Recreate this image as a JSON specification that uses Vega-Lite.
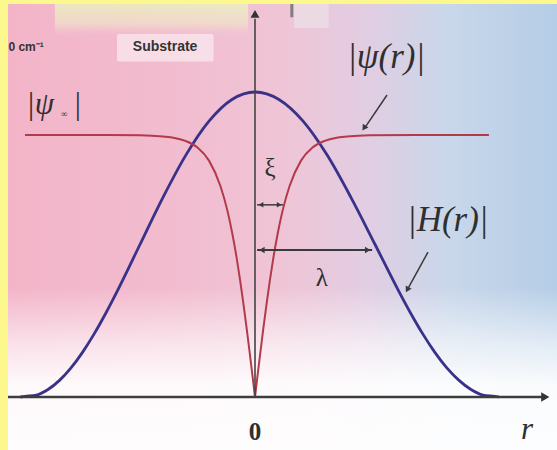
{
  "$schema": "https://vega.github.io/schema/vega-lite/v6.json",
  "width": 549,
  "height": 446,
  "autosize": "none",
  "padding": {"left": 8, "top": 4, "right": 0, "bottom": 0},
  "background": "#fcf88e",
  "config": {
    "view": {
      "stroke": null,
      "fill": {
        "gradient": "linear", "x1": 0, "y1": 0, "x2": 1, "y2": 0,
        "stops": [
          {"offset": 0, "color": "#f3b4c8"},
          {"offset": 0.3, "color": "#f2bccf"},
          {"offset": 0.5, "color": "#efc5d6"},
          {"offset": 0.65, "color": "#e2cde2"},
          {"offset": 0.8, "color": "#c9d7ea"},
          {"offset": 1, "color": "#b5cde6"}
        ]
      }
    }
  },
  "data": {"values": [{}]},
  "datasets": {
    "H": [
      {"r": -1.02, "h": 0}, {"r": -1.0, "h": 0.002}, {"r": -0.95, "h": 0.0062},
      {"r": -0.9, "h": 0.0245}, {"r": -0.85, "h": 0.0545}, {"r": -0.8, "h": 0.0955},
      {"r": -0.75, "h": 0.1464}, {"r": -0.7, "h": 0.2061}, {"r": -0.65, "h": 0.273},
      {"r": -0.6, "h": 0.3455}, {"r": -0.5, "h": 0.5}, {"r": -0.4, "h": 0.6545},
      {"r": -0.3, "h": 0.7939}, {"r": -0.2, "h": 0.9045}, {"r": -0.1, "h": 0.9755},
      {"r": 0, "h": 1.0},
      {"r": 0.104, "h": 0.9755}, {"r": 0.209, "h": 0.9045}, {"r": 0.313, "h": 0.7939},
      {"r": 0.417, "h": 0.6545}, {"r": 0.522, "h": 0.5}, {"r": 0.626, "h": 0.3455},
      {"r": 0.678, "h": 0.273}, {"r": 0.73, "h": 0.2061}, {"r": 0.782, "h": 0.1464},
      {"r": 0.834, "h": 0.0955}, {"r": 0.887, "h": 0.0545}, {"r": 0.939, "h": 0.0245},
      {"r": 0.991, "h": 0.0062}, {"r": 1.043, "h": 0.002}, {"r": 1.06, "h": 0}
    ],
    "psi": [
      {"branch": "left", "r": -1.0, "h": 0.859}, {"branch": "left", "r": -0.7, "h": 0.859},
      {"branch": "left", "r": -0.5, "h": 0.858}, {"branch": "left", "r": -0.4, "h": 0.854},
      {"branch": "left", "r": -0.35, "h": 0.8495}, {"branch": "left", "r": -0.3, "h": 0.839},
      {"branch": "left", "r": -0.25, "h": 0.818}, {"branch": "left", "r": -0.2, "h": 0.775},
      {"branch": "left", "r": -0.15, "h": 0.691}, {"branch": "left", "r": -0.12, "h": 0.611},
      {"branch": "left", "r": -0.1, "h": 0.541}, {"branch": "left", "r": -0.08, "h": 0.457},
      {"branch": "left", "r": -0.065, "h": 0.3843}, {"branch": "left", "r": -0.05, "h": 0.304},
      {"branch": "left", "r": -0.035, "h": 0.2178}, {"branch": "left", "r": -0.02, "h": 0.126},
      {"branch": "left", "r": -0.01, "h": 0.0636}, {"branch": "left", "r": 0, "h": 0},
      {"branch": "right", "r": 0, "h": 0}, {"branch": "right", "r": 0.01, "h": 0.0636},
      {"branch": "right", "r": 0.02, "h": 0.126}, {"branch": "right", "r": 0.035, "h": 0.2178},
      {"branch": "right", "r": 0.05, "h": 0.304}, {"branch": "right", "r": 0.065, "h": 0.3843},
      {"branch": "right", "r": 0.08, "h": 0.457}, {"branch": "right", "r": 0.1, "h": 0.541},
      {"branch": "right", "r": 0.12, "h": 0.611}, {"branch": "right", "r": 0.15, "h": 0.691},
      {"branch": "right", "r": 0.2, "h": 0.775}, {"branch": "right", "r": 0.25, "h": 0.818},
      {"branch": "right", "r": 0.3, "h": 0.839}, {"branch": "right", "r": 0.35, "h": 0.8495},
      {"branch": "right", "r": 0.4, "h": 0.854}, {"branch": "right", "r": 0.5, "h": 0.858},
      {"branch": "right", "r": 0.7, "h": 0.859}, {"branch": "right", "r": 1.017, "h": 0.859}
    ]
  },
  "layer": [
    {
      "description": "white fade towards the bottom of the backdrop",
      "mark": {
        "type": "rect",
        "fill": {
          "gradient": "linear", "x1": 0, "y1": 0, "x2": 0, "y2": 1,
          "stops": [
            {"offset": 0, "color": "rgba(255,255,255,0)"},
            {"offset": 0.35, "color": "rgba(255,255,255,0.6)"},
            {"offset": 0.6, "color": "rgba(255,255,255,0.92)"},
            {"offset": 1, "color": "rgba(255,255,255,0.96)"}
          ]
        }
      },
      "encoding": {
        "x": {"datum": -1.0739, "type": "quantitative", "scale": {"domain": [-1.0739, 1.313], "nice": false, "zero": false}, "axis": null},
        "x2": {"datum": 1.313},
        "y": {"datum": 0.36, "type": "quantitative", "scale": {"domain": [-0.1738, 1.2885], "nice": false, "zero": false}, "axis": null},
        "y2": {"datum": -0.1738}
      }
    },
    {
      "description": "pale band across the top left",
      "mark": {
        "type": "rect",
        "fill": {
          "gradient": "linear", "x1": 0, "y1": 0, "x2": 0, "y2": 1,
          "stops": [
            {"offset": 0, "color": "rgba(234,243,190,0.8)"},
            {"offset": 0.6, "color": "rgba(240,238,200,0.55)"},
            {"offset": 1, "color": "rgba(240,200,210,0)"}
          ]
        }
      },
      "encoding": {
        "x": {"datum": -0.87, "type": "quantitative", "scale": {"domain": [-1.0739, 1.313], "nice": false, "zero": false}, "axis": null},
        "x2": {"datum": -0.03},
        "y": {"datum": 1.2885, "type": "quantitative", "scale": {"domain": [-0.1738, 1.2885], "nice": false, "zero": false}, "axis": null},
        "y2": {"datum": 1.18}
      }
    },
    {
      "description": "pale grey patch right of the vertical axis at the top",
      "mark": {"type": "rect", "fill": "#ece6ea", "opacity": 0.6},
      "encoding": {
        "x": {"datum": 0.17, "type": "quantitative", "scale": {"domain": [-1.0739, 1.313], "nice": false, "zero": false}, "axis": null},
        "x2": {"datum": 0.32},
        "y": {"datum": 1.2885, "type": "quantitative", "scale": {"domain": [-0.1738, 1.2885], "nice": false, "zero": false}, "axis": null},
        "y2": {"datum": 1.21}
      }
    },
    {
      "mark": {"type": "rule", "color": "#6a6a6a", "strokeWidth": 3, "opacity": 0.8},
      "encoding": {
        "x": {"datum": 0.16, "type": "quantitative", "scale": {"domain": [-1.0739, 1.313], "nice": false, "zero": false}, "axis": null},
        "y": {"datum": 1.2885, "type": "quantitative", "scale": {"domain": [-0.1738, 1.2885], "nice": false, "zero": false}, "axis": null},
        "y2": {"datum": 1.245}
      }
    },
    {
      "description": "box behind the Substrate caption",
      "mark": {"type": "rect", "fill": "#fbf4f7", "opacity": 0.6, "cornerRadius": 2},
      "encoding": {
        "x": {"datum": -0.6, "type": "quantitative", "scale": {"domain": [-1.0739, 1.313], "nice": false, "zero": false}, "axis": null},
        "x2": {"datum": -0.18},
        "y": {"datum": 1.19, "type": "quantitative", "scale": {"domain": [-0.1738, 1.2885], "nice": false, "zero": false}, "axis": null},
        "y2": {"datum": 1.1}
      }
    },
    {
      "description": "|H(r)| field profile",
      "data": {"name": "H"},
      "mark": {"type": "line", "color": "#3a3289", "strokeWidth": 2.8, "interpolate": "monotone"},
      "encoding": {
        "x": {"field": "r", "type": "quantitative", "scale": {"domain": [-1.0739, 1.313], "nice": false, "zero": false}, "axis": null},
        "y": {"field": "h", "type": "quantitative", "scale": {"domain": [-0.1738, 1.2885], "nice": false, "zero": false}, "axis": null}
      }
    },
    {
      "description": "|psi(r)| order parameter, one line per side of the core",
      "data": {"name": "psi"},
      "mark": {"type": "line", "color": "#b23a4a", "strokeWidth": 2, "interpolate": "monotone"},
      "encoding": {
        "x": {"field": "r", "type": "quantitative", "scale": {"domain": [-1.0739, 1.313], "nice": false, "zero": false}, "axis": null},
        "y": {"field": "h", "type": "quantitative", "scale": {"domain": [-0.1738, 1.2885], "nice": false, "zero": false}, "axis": null},
        "detail": {"field": "branch"}
      }
    },
    {
      "description": "r axis",
      "mark": {"type": "rule", "color": "#3d3d3d", "strokeWidth": 2.5},
      "encoding": {
        "x": {"datum": -1.0739, "type": "quantitative", "scale": {"domain": [-1.0739, 1.313], "nice": false, "zero": false}, "axis": null},
        "x2": {"datum": 1.26},
        "y": {"datum": 0, "type": "quantitative", "scale": {"domain": [-0.1738, 1.2885], "nice": false, "zero": false}, "axis": null}
      }
    },
    {
      "description": "vertical axis",
      "mark": {"type": "rule", "color": "#444444", "strokeWidth": 1.6},
      "encoding": {
        "x": {"datum": 0, "type": "quantitative", "scale": {"domain": [-1.0739, 1.313], "nice": false, "zero": false}, "axis": null},
        "y": {"datum": 0, "type": "quantitative", "scale": {"domain": [-0.1738, 1.2885], "nice": false, "zero": false}, "axis": null},
        "y2": {"datum": 1.24}
      }
    },
    {
      "mark": {"type": "point", "shape": "triangle-right", "filled": true, "color": "#333333", "opacity": 1, "size": 90},
      "encoding": {
        "x": {"datum": 1.262, "type": "quantitative", "scale": {"domain": [-1.0739, 1.313], "nice": false, "zero": false}, "axis": null},
        "y": {"datum": 0, "type": "quantitative", "scale": {"domain": [-0.1738, 1.2885], "nice": false, "zero": false}, "axis": null}
      }
    },
    {
      "mark": {"type": "point", "shape": "triangle-up", "filled": true, "color": "#333333", "opacity": 1, "size": 80},
      "encoding": {
        "x": {"datum": 0, "type": "quantitative", "scale": {"domain": [-1.0739, 1.313], "nice": false, "zero": false}, "axis": null},
        "y": {"datum": 1.256, "type": "quantitative", "scale": {"domain": [-0.1738, 1.2885], "nice": false, "zero": false}, "axis": null}
      }
    },
    {
      "description": "xi span",
      "mark": {"type": "rule", "color": "#3a3a3a", "strokeWidth": 1.5},
      "encoding": {
        "x": {"datum": 0.009, "type": "quantitative", "scale": {"domain": [-1.0739, 1.313], "nice": false, "zero": false}, "axis": null},
        "x2": {"datum": 0.122},
        "y": {"datum": 0.63, "type": "quantitative", "scale": {"domain": [-0.1738, 1.2885], "nice": false, "zero": false}, "axis": null}
      }
    },
    {
      "mark": {"type": "point", "shape": "triangle-left", "filled": true, "color": "#3a3a3a", "opacity": 1, "size": 30},
      "encoding": {
        "x": {"datum": 0.026, "type": "quantitative", "scale": {"domain": [-1.0739, 1.313], "nice": false, "zero": false}, "axis": null},
        "y": {"datum": 0.63, "type": "quantitative", "scale": {"domain": [-0.1738, 1.2885], "nice": false, "zero": false}, "axis": null}
      }
    },
    {
      "mark": {"type": "point", "shape": "triangle-right", "filled": true, "color": "#3a3a3a", "opacity": 1, "size": 30},
      "encoding": {
        "x": {"datum": 0.105, "type": "quantitative", "scale": {"domain": [-1.0739, 1.313], "nice": false, "zero": false}, "axis": null},
        "y": {"datum": 0.63, "type": "quantitative", "scale": {"domain": [-0.1738, 1.2885], "nice": false, "zero": false}, "axis": null}
      }
    },
    {
      "description": "lambda span",
      "mark": {"type": "rule", "color": "#3a3a3a", "strokeWidth": 1.8},
      "encoding": {
        "x": {"datum": 0.009, "type": "quantitative", "scale": {"domain": [-1.0739, 1.313], "nice": false, "zero": false}, "axis": null},
        "x2": {"datum": 0.509},
        "y": {"datum": 0.482, "type": "quantitative", "scale": {"domain": [-0.1738, 1.2885], "nice": false, "zero": false}, "axis": null}
      }
    },
    {
      "mark": {"type": "point", "shape": "triangle-left", "filled": true, "color": "#3a3a3a", "opacity": 1, "size": 40},
      "encoding": {
        "x": {"datum": 0.03, "type": "quantitative", "scale": {"domain": [-1.0739, 1.313], "nice": false, "zero": false}, "axis": null},
        "y": {"datum": 0.482, "type": "quantitative", "scale": {"domain": [-0.1738, 1.2885], "nice": false, "zero": false}, "axis": null}
      }
    },
    {
      "mark": {"type": "point", "shape": "triangle-right", "filled": true, "color": "#3a3a3a", "opacity": 1, "size": 40},
      "encoding": {
        "x": {"datum": 0.49, "type": "quantitative", "scale": {"domain": [-1.0739, 1.313], "nice": false, "zero": false}, "axis": null},
        "y": {"datum": 0.482, "type": "quantitative", "scale": {"domain": [-0.1738, 1.2885], "nice": false, "zero": false}, "axis": null}
      }
    },
    {
      "description": "pointer to |psi(r)|",
      "mark": {"type": "rule", "color": "#3a3a3a", "strokeWidth": 1.5},
      "encoding": {
        "x": {"datum": 0.574, "type": "quantitative", "scale": {"domain": [-1.0739, 1.313], "nice": false, "zero": false}, "axis": null},
        "x2": {"datum": 0.475},
        "y": {"datum": 0.99, "type": "quantitative", "scale": {"domain": [-0.1738, 1.2885], "nice": false, "zero": false}, "axis": null},
        "y2": {"datum": 0.88}
      }
    },
    {
      "mark": {"type": "point", "shape": "triangle-up", "angle": 214, "filled": true, "color": "#3a3a3a", "opacity": 1, "size": 45},
      "encoding": {
        "x": {"datum": 0.474, "type": "quantitative", "scale": {"domain": [-1.0739, 1.313], "nice": false, "zero": false}, "axis": null},
        "y": {"datum": 0.882, "type": "quantitative", "scale": {"domain": [-0.1738, 1.2885], "nice": false, "zero": false}, "axis": null}
      }
    },
    {
      "description": "pointer to |H(r)|",
      "mark": {"type": "rule", "color": "#3a3a3a", "strokeWidth": 1.5},
      "encoding": {
        "x": {"datum": 0.752, "type": "quantitative", "scale": {"domain": [-1.0739, 1.313], "nice": false, "zero": false}, "axis": null},
        "x2": {"datum": 0.665},
        "y": {"datum": 0.475, "type": "quantitative", "scale": {"domain": [-0.1738, 1.2885], "nice": false, "zero": false}, "axis": null},
        "y2": {"datum": 0.355}
      }
    },
    {
      "mark": {"type": "point", "shape": "triangle-up", "angle": 209, "filled": true, "color": "#3a3a3a", "opacity": 1, "size": 45},
      "encoding": {
        "x": {"datum": 0.662, "type": "quantitative", "scale": {"domain": [-1.0739, 1.313], "nice": false, "zero": false}, "axis": null},
        "y": {"datum": 0.352, "type": "quantitative", "scale": {"domain": [-0.1738, 1.2885], "nice": false, "zero": false}, "axis": null}
      }
    },
    {
      "description": "math labels",
      "data": {"values": [
        {"label": "|ψ(r)|", "r": 0.57, "h": 1.115},
        {"label": "|H(r)|", "r": 0.838, "h": 0.58}
      ]},
      "mark": {"type": "text", "font": "Liberation Serif", "fontStyle": "italic", "fontSize": 35, "color": "#2f2f2f", "baseline": "middle", "align": "center"},
      "encoding": {
        "x": {"field": "r", "type": "quantitative", "scale": {"domain": [-1.0739, 1.313], "nice": false, "zero": false}, "axis": null},
        "y": {"field": "h", "type": "quantitative", "scale": {"domain": [-0.1738, 1.2885], "nice": false, "zero": false}, "axis": null},
        "text": {"field": "label"}
      }
    },
    {
      "data": {"values": [{"label": "r", "r": 1.183, "h": -0.108}]},
      "mark": {"type": "text", "font": "Liberation Serif", "fontStyle": "italic", "fontSize": 31, "color": "#2f2f2f", "baseline": "middle", "align": "center"},
      "encoding": {
        "x": {"field": "r", "type": "quantitative", "scale": {"domain": [-1.0739, 1.313], "nice": false, "zero": false}, "axis": null},
        "y": {"field": "h", "type": "quantitative", "scale": {"domain": [-0.1738, 1.2885], "nice": false, "zero": false}, "axis": null},
        "text": {"field": "label"}
      }
    },
    {
      "data": {"values": [
        {"label": "ξ", "r": 0.065, "h": 0.751},
        {"label": "λ", "r": 0.291, "h": 0.39}
      ]},
      "mark": {"type": "text", "font": "Liberation Serif", "fontSize": 25, "color": "#2f2f2f", "baseline": "middle", "align": "center"},
      "encoding": {
        "x": {"field": "r", "type": "quantitative", "scale": {"domain": [-1.0739, 1.313], "nice": false, "zero": false}, "axis": null},
        "y": {"field": "h", "type": "quantitative", "scale": {"domain": [-0.1738, 1.2885], "nice": false, "zero": false}, "axis": null},
        "text": {"field": "label"}
      }
    },
    {
      "data": {"values": [{"label": "|ψ", "r": -0.995, "h": 0.957}]},
      "mark": {"type": "text", "font": "Liberation Serif", "fontStyle": "italic", "fontSize": 31, "color": "#2f2f2f", "baseline": "middle", "align": "left"},
      "encoding": {
        "x": {"field": "r", "type": "quantitative", "scale": {"domain": [-1.0739, 1.313], "nice": false, "zero": false}, "axis": null},
        "y": {"field": "h", "type": "quantitative", "scale": {"domain": [-0.1738, 1.2885], "nice": false, "zero": false}, "axis": null},
        "text": {"field": "label"}
      }
    },
    {
      "data": {"values": [{"label": "∞", "r": -0.83, "h": 0.928}]},
      "mark": {"type": "text", "font": "Liberation Serif", "fontSize": 9, "color": "#2f2f2f", "baseline": "middle", "align": "center"},
      "encoding": {
        "x": {"field": "r", "type": "quantitative", "scale": {"domain": [-1.0739, 1.313], "nice": false, "zero": false}, "axis": null},
        "y": {"field": "h", "type": "quantitative", "scale": {"domain": [-0.1738, 1.2885], "nice": false, "zero": false}, "axis": null},
        "text": {"field": "label"}
      }
    },
    {
      "data": {"values": [{"label": "|", "r": -0.77, "h": 0.957}]},
      "mark": {"type": "text", "font": "Liberation Serif", "fontSize": 31, "color": "#2f2f2f", "baseline": "middle", "align": "center"},
      "encoding": {
        "x": {"field": "r", "type": "quantitative", "scale": {"domain": [-1.0739, 1.313], "nice": false, "zero": false}, "axis": null},
        "y": {"field": "h", "type": "quantitative", "scale": {"domain": [-0.1738, 1.2885], "nice": false, "zero": false}, "axis": null},
        "text": {"field": "label"}
      }
    },
    {
      "data": {"values": [{"label": "0", "r": 0, "h": -0.115}]},
      "mark": {"type": "text", "font": "Liberation Serif", "fontWeight": "bold", "fontSize": 25, "color": "#2f2f2f", "baseline": "middle", "align": "center"},
      "encoding": {
        "x": {"field": "r", "type": "quantitative", "scale": {"domain": [-1.0739, 1.313], "nice": false, "zero": false}, "axis": null},
        "y": {"field": "h", "type": "quantitative", "scale": {"domain": [-0.1738, 1.2885], "nice": false, "zero": false}, "axis": null},
        "text": {"field": "label"}
      }
    },
    {
      "data": {"values": [{"label": "Substrate", "r": -0.391, "h": 1.148}]},
      "mark": {"type": "text", "font": "Liberation Sans", "fontWeight": "bold", "fontSize": 14, "color": "#333333", "baseline": "middle", "align": "center"},
      "encoding": {
        "x": {"field": "r", "type": "quantitative", "scale": {"domain": [-1.0739, 1.313], "nice": false, "zero": false}, "axis": null},
        "y": {"field": "h", "type": "quantitative", "scale": {"domain": [-0.1738, 1.2885], "nice": false, "zero": false}, "axis": null},
        "text": {"field": "label"}
      }
    },
    {
      "data": {"values": [{"label": "0 cm⁻¹", "r": -1.072, "h": 1.148}]},
      "mark": {"type": "text", "font": "Liberation Sans", "fontWeight": "bold", "fontSize": 12, "color": "#333333", "baseline": "middle", "align": "left"},
      "encoding": {
        "x": {"field": "r", "type": "quantitative", "scale": {"domain": [-1.0739, 1.313], "nice": false, "zero": false}, "axis": null},
        "y": {"field": "h", "type": "quantitative", "scale": {"domain": [-0.1738, 1.2885], "nice": false, "zero": false}, "axis": null},
        "text": {"field": "label"}
      }
    }
  ]
}
